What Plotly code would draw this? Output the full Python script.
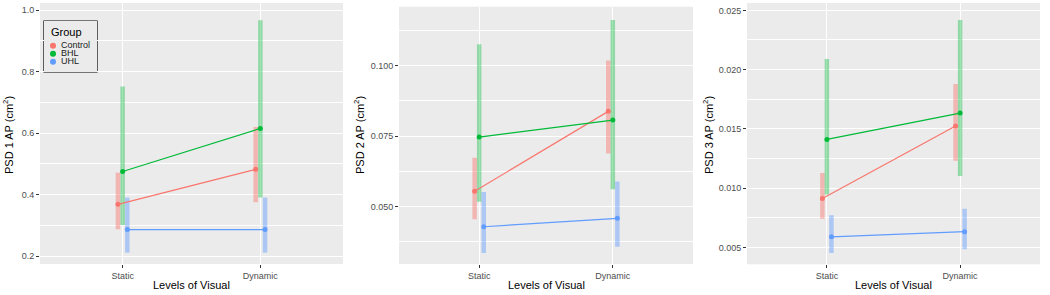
import plotly.graph_objects as go

levels = ["Static", "Dynamic"]
groups = ["Control", "BHL", "UHL"]
colors = {"Control": "#F8766D", "BHL": "#00BA38", "UHL": "#619CFF"}
bar_colors = {"Control": "rgba(248,118,109,0.45)", "BHL": "rgba(0,186,56,0.38)", "UHL": "rgba(97,156,255,0.45)"}

# PSD 1 AP: mean, lower, upper for [Static, Dynamic]
psd1_mean = {"Control": [0.368, 0.482], "BHL": [0.475, 0.615], "UHL": [0.286, 0.286]}
psd1_lo = {"Control": [0.287, 0.375], "BHL": [0.301, 0.390], "UHL": [0.211, 0.211]}
psd1_hi = {"Control": [0.471, 0.620], "BHL": [0.751, 0.967], "UHL": [0.390, 0.390]}

psd2_mean = {"Control": [0.0555, 0.0838], "BHL": [0.0747, 0.0807], "UHL": [0.0429, 0.0459]}
psd2_lo = {"Control": [0.0456, 0.0689], "BHL": [0.0518, 0.0562], "UHL": [0.0336, 0.0358]}
psd2_hi = {"Control": [0.0674, 0.1018], "BHL": [0.1076, 0.1162], "UHL": [0.0552, 0.0589]}

psd3_mean = {"Control": [0.00913, 0.01524], "BHL": [0.01411, 0.01633], "UHL": [0.00589, 0.00632]}
psd3_lo = {"Control": [0.00741, 0.01231], "BHL": [0.00947, 0.01102], "UHL": [0.00452, 0.00483]}
psd3_hi = {"Control": [0.01127, 0.01878], "BHL": [0.02089, 0.02418], "UHL": [0.00770, 0.00826]}

y_titles = ["PSD 1 AP (cm<sup>2</sup>)", "PSD 2 AP (cm<sup>2</sup>)", "PSD 3 AP (cm<sup>2</sup>)"]
x_title = "Levels of Visual"
legend_title = "Group"

W, H = 1050, 295
FONT = "Liberation Sans, Arial, sans-serif"

panels = [
    dict(mean=psd1_mean, lo=psd1_lo, hi=psd1_hi,
         rng=[0.174, 1.023], dtick=0.2, tick0=0.2, fmt=".1f",
         px=(40, 343), py=(3, 264), ytx=8),
    dict(mean=psd2_mean, lo=psd2_lo, hi=psd2_hi,
         rng=[0.0297, 0.1209], dtick=0.025, tick0=0.05, fmt=".3f",
         px=(399, 693), py=(6.7, 264), ytx=359),
    dict(mean=psd3_mean, lo=psd3_lo, hi=psd3_hi,
         rng=[0.00357, 0.02562], dtick=0.005, tick0=0.005, fmt=".3f",
         px=(747, 1040), py=(3, 264.3), ytx=708),
]

dodge = {"Control": -0.034, "BHL": 0.0, "UHL": 0.034}
xbase = [1, 2]

fig = go.Figure()
tickfont = dict(family=FONT, size=9, color="#4D4D4D")
titlefont = dict(family=FONT, size=11, color="#000000")
annotations = []

for i, p in enumerate(panels):
    sfx = "" if i == 0 else str(i + 1)
    xa, ya = "x" + sfx, "y" + sfx
    for g in groups:
        xs, ys = [], []
        for k in range(2):
            xv = xbase[k] + dodge[g]
            xs += [xv, xv, None]
            ys += [p["lo"][g][k], p["hi"][g][k], None]
        fig.add_trace(go.Scatter(x=xs, y=ys, mode="lines", xaxis=xa, yaxis=ya,
                                 line=dict(color=bar_colors[g], width=4.5),
                                 showlegend=False, hoverinfo="skip"))
    for g in groups:
        xs = [xbase[k] + dodge[g] for k in range(2)]
        fig.add_trace(go.Scatter(x=xs, y=p["mean"][g], mode="lines+markers", xaxis=xa, yaxis=ya,
                                 line=dict(color=colors[g], width=1.2),
                                 marker=dict(color=colors[g], size=5),
                                 showlegend=False, name=g))
    xdom = [p["px"][0] / W, p["px"][1] / W]
    ydom = [1 - p["py"][1] / H, 1 - p["py"][0] / H]
    fig.update_layout(**{
        ("xaxis" + sfx): dict(domain=xdom, anchor=ya, range=[0.4, 2.6],
                              tickvals=xbase, ticktext=levels, showgrid=True,
                              gridcolor="white", gridwidth=1.1, zeroline=False,
                              ticks="outside", ticklen=3, tickcolor="#333333",
                              tickfont=tickfont, automargin=False),
        ("yaxis" + sfx): dict(domain=ydom, anchor=xa, range=p["rng"],
                              dtick=p["dtick"], tick0=p["tick0"], tickformat=p["fmt"],
                              showgrid=True, gridcolor="white", gridwidth=1.1, zeroline=False,
                              ticks="outside", ticklen=3, tickcolor="#333333",
                              tickfont=tickfont, automargin=False,
                              minor=dict(showgrid=True, gridcolor="white", gridwidth=0.5,
                                         dtick=p["dtick"] / 2, tick0=p["tick0"])),
    })
    annotations.append(dict(text=x_title, xref="paper", yref="paper",
                            x=(p["px"][0] + p["px"][1]) / 2 / W, y=1 - 285 / H,
                            xanchor="center", yanchor="middle", showarrow=False, font=titlefont))
    annotations.append(dict(text=y_titles[i], xref="paper", yref="paper",
                            x=p["ytx"] / W, y=1 - 135 / H, textangle=-90,
                            xanchor="center", yanchor="middle", showarrow=False, font=titlefont))

# manual compact legend in a hidden overlay subplot
leg_px, leg_py = (44, 97), (21, 72)
fig.add_trace(go.Scatter(x=[0.17] * len(groups), y=list(range(len(groups))),
                         mode="markers",
                         marker=dict(color=[colors[g] for g in groups], size=6),
                         xaxis="x4", yaxis="y4", showlegend=False, hoverinfo="skip"))
fig.add_trace(go.Scatter(x=[0.32] * len(groups), y=list(range(len(groups))),
                         mode="text", text=groups, textposition="middle right",
                         textfont=dict(family=FONT, size=9, color="#1A1A1A"),
                         xaxis="x4", yaxis="y4", showlegend=False, hoverinfo="skip"))
fig.update_layout(
    xaxis4=dict(domain=[leg_px[0] / W, leg_px[1] / W], anchor="y4", range=[0, 1],
                visible=False, fixedrange=True),
    yaxis4=dict(domain=[1 - leg_py[1] / H, 1 - leg_py[0] / H], anchor="x4",
                range=[3.29, -3.09], visible=False, fixedrange=True),
)
fig.add_shape(type="rect", xref="x4 domain", yref="y4 domain", x0=0, x1=1, y0=0, y1=1,
              line=dict(color="black", width=1.2), fillcolor="#F0F0F0", layer="below")
annotations.append(dict(text=legend_title, xref="paper", yref="paper",
                        x=49 / W, y=1 - 32 / H, xanchor="left", yanchor="middle",
                        showarrow=False, font=dict(family=FONT, size=11, color="#000000")))

fig.update_layout(
    width=W, height=H,
    margin=dict(l=0, r=0, t=0, b=0),
    plot_bgcolor="#EBEBEB", paper_bgcolor="white",
    showlegend=False,
    annotations=annotations,
)

fig.write_html("out.html", config={"displayModeBar": False},
               post_script="document.body.style.margin='0';document.body.style.overflow='hidden';")
